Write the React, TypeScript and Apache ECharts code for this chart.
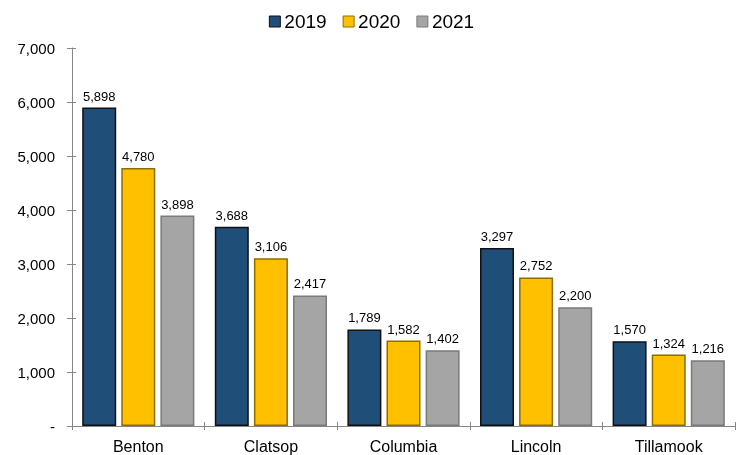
import React, { useEffect, useRef } from "react";
import * as echarts from "echarts";

const categories = ["Benton", "Clatsop", "Columbia", "Lincoln", "Tillamook"];
const seriesNames = ["2019", "2020", "2021"];
const values2019 = [5898, 3688, 1789, 3297, 1570];
const values2020 = [4780, 3106, 1582, 2752, 1324];
const values2021 = [3898, 2417, 1402, 2200, 1216];
const yTicks = { min: 0, max: 7000, interval: 1000 };
const fillColors = ["#1F4E79", "#FFC000", "#A5A5A5"];
const borderColors = ["#111111", "#8C6D00", "#7A7A7A"];

const FONT = "'Liberation Sans', Arial, sans-serif";

export default function App() {
  const ref = useRef<HTMLDivElement>(null);
  useEffect(() => {
    if (!ref.current) return;
    const chart = echarts.init(ref.current, null, { renderer: "svg" });
    const allValues = [values2019, values2020, values2021];
    const fmt = (v: number) => (v === 0 ? "-" : v.toLocaleString("en-US"));
    const axisColor = "#868686";
    chart.setOption({
      animation: false,
      textStyle: { fontFamily: FONT },
      legend: {
        top: 7,
        left: "center",
        icon: "rect",
        itemWidth: 11,
        itemHeight: 11,
        itemGap: 16,
        itemStyle: { borderWidth: 1 },
        textStyle: { fontSize: 19, color: "#000", fontFamily: FONT, padding: [0, 0, 0, -1] },
        data: seriesNames,
      },
      grid: { left: 72, right: 8, top: 48, bottom: 29, containLabel: false },
      xAxis: [
        {
          type: "category",
          data: categories,
          position: "bottom",
          axisLine: { lineStyle: { color: axisColor, width: 1 } },
          axisTick: { show: true, inside: false, length: 4, lineStyle: { color: axisColor } },
          axisLabel: { fontSize: 16, color: "#000", margin: 12, fontFamily: FONT },
        },
        {
          type: "category",
          data: categories,
          position: "bottom",
          axisLine: { show: false },
          axisTick: { show: true, inside: true, length: 4, lineStyle: { color: axisColor } },
          axisLabel: { show: false },
        },
      ],
      yAxis: [
        {
          type: "value",
          ...yTicks,
          position: "left",
          axisLine: { show: true, lineStyle: { color: axisColor } },
          axisTick: { show: true, inside: false, length: 5, lineStyle: { color: axisColor } },
          splitLine: { show: false },
          axisLabel: {
            fontSize: 15,
            color: "#000",
            margin: 17,
            fontFamily: FONT,
            formatter: (v: number) => fmt(v),
          },
        },
        {
          type: "value",
          ...yTicks,
          position: "left",
          axisLine: { show: false },
          axisTick: { show: true, inside: true, length: 4, lineStyle: { color: axisColor } },
          splitLine: { show: false },
          axisLabel: { show: false },
        },
      ],
      series: seriesNames.map((name, i) => ({
        name,
        type: "bar",
        xAxisIndex: 0,
        yAxisIndex: 0,
        data: allValues[i],
        barWidth: 34,
        barGap: "15%",
        itemStyle: { color: fillColors[i], borderColor: borderColors[i], borderWidth: 1.5 },
        label: {
          show: true,
          position: "top",
          distance: 5,
          fontSize: 13,
          color: "#000",
          fontFamily: FONT,
          formatter: (p: any) => fmt(p.value),
        },
      })),
    });
    return () => chart.dispose();
  }, []);
  return (
    <div
      ref={ref}
      style={{ position: "fixed", left: 0, top: 0, width: 743, height: 455 }}
    />
  );
}
